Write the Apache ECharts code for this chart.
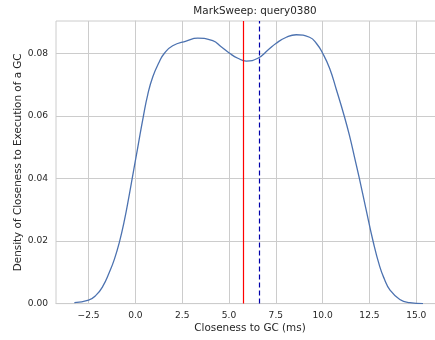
<!DOCTYPE html>
<html>
<head>
<meta charset="utf-8">
<script src="https://cdn.jsdelivr.net/npm/echarts@6/dist/echarts.min.js"></script>
<style>
  html, body { margin: 0; padding: 0; background: #fff; overflow: hidden; }
  /* the axes run slightly past the right edge of the window */
  #chart { width: 444px; height: 340px; }
</style>
</head>
<body>
<div id="chart"></div>
<script>
// Kernel density estimate of closeness to GC (ms)
const closenessMs = [
  -3.26, -2.50, -2.10, -1.75, -1.39, -1.12, -0.86, -0.59, -0.32, -0.17,
  0.12, 0.43, 0.66, 0.93, 1.28, 1.55, 1.99, 2.71, 3.33, 4.13,
  4.58, 5.03, 5.47, 5.92, 6.54, 7.08, 7.52, 8.06, 8.59, 9.30,
  9.66, 10.00, 10.37, 10.73, 11.16, 11.44, 11.70, 11.96, 12.30, 12.69,
  13.05, 13.30, 13.58, 14.12, 14.65, 15.36
];
const density = [
  0.0003, 0.0011, 0.0027, 0.0054, 0.0100, 0.0142, 0.0195, 0.0265, 0.0350, 0.0400,
  0.0497, 0.0600, 0.0668, 0.0725, 0.0773, 0.0800, 0.0824, 0.0839, 0.0848, 0.0840,
  0.0821, 0.0800, 0.0784, 0.0775, 0.0784, 0.0810, 0.0832, 0.0851, 0.0859, 0.0851,
  0.0832, 0.0800, 0.0752, 0.0684, 0.0598, 0.0535, 0.0468, 0.0400, 0.0306, 0.0200,
  0.0118, 0.0078, 0.0045, 0.0013, 0.0003, 0.0000
];
// Reference lines: solid red and dashed dark blue
const redLineX = 5.77;
const blueLineX = 6.60;

const xTicks = [-2.5, 0.0, 2.5, 5.0, 7.5, 10.0, 12.5, 15.0];
const yTicks = [0.00, 0.02, 0.04, 0.06, 0.08];

const titleText = 'MarkSweep: query0380';
const xName = 'Closeness to GC (ms)';
const yName = 'Density of Closeness to Execution of a GC';

const textColor = '#262626';
const gridColor = '#cccccc';
const font = 'DejaVu Sans';

const chart = echarts.init(document.getElementById('chart'), null, { renderer: 'canvas' });

const fmtMinus = s => s.replace('-', '\u2212');

chart.setOption({
  animation: false,
  backgroundColor: '#ffffff',
  title: {
    text: titleText,
    left: 250,
    textAlign: 'center',
    top: 1,
    textStyle: { fontFamily: font, fontSize: 10.4, fontWeight: 'normal', color: textColor }
  },
  grid: {
    left: 56, top: 21, right: 0, bottom: 36.4,
    show: true, borderColor: gridColor, borderWidth: 1, backgroundColor: 'transparent'
  },
  xAxis: {
    type: 'value',
    min: -4.24,
    max: 16.48,
    name: xName,
    nameLocation: 'middle',
    nameGap: 20,
    nameMoveOverlap: false,
    nameTextStyle: { fontFamily: font, fontSize: 10.4, color: textColor, verticalAlign: 'top' },
    axisLine: { show: true, lineStyle: { color: gridColor, width: 1 } },
    axisTick: { show: false, customValues: xTicks },
    splitLine: { show: true, lineStyle: { color: gridColor, width: 1 } },
    axisLabel: {
      customValues: xTicks,
      margin: 8,
      fontFamily: font, fontSize: 9.1, color: textColor,
      formatter: v => fmtMinus(v.toFixed(1))
    }
  },
  yAxis: {
    type: 'value',
    min: 0,
    max: 0.0903,
    name: yName,
    nameLocation: 'middle',
    nameGap: 33,
    nameMoveOverlap: false,
    nameTextStyle: { fontFamily: font, fontSize: 10.4, color: textColor },
    axisLine: { show: true, lineStyle: { color: gridColor, width: 1 } },
    axisTick: { show: false, customValues: yTicks },
    splitLine: { show: true, lineStyle: { color: gridColor, width: 1 } },
    axisLabel: {
      customValues: yTicks,
      margin: 8,
      fontFamily: font, fontSize: 9.1, color: textColor,
      formatter: v => v.toFixed(2)
    }
  },
  series: [{
    type: 'line',
    data: closenessMs.map((x, i) => [x, density[i]]),
    smooth: 0.5,
    showSymbol: false,
    lineStyle: { color: '#4c72b0', width: 1.3 },
    silent: true,
    markLine: {
      silent: true,
      symbol: ['none', 'none'],
      label: { show: false },
      data: [
        { xAxis: redLineX, lineStyle: { color: '#ff0000', type: 'solid', width: 1.2 } },
        { xAxis: blueLineX, lineStyle: { color: '#0000aa', type: [5, 3], width: 1.2 } }
      ]
    }
  }]
});
</script>
</body>
</html>
